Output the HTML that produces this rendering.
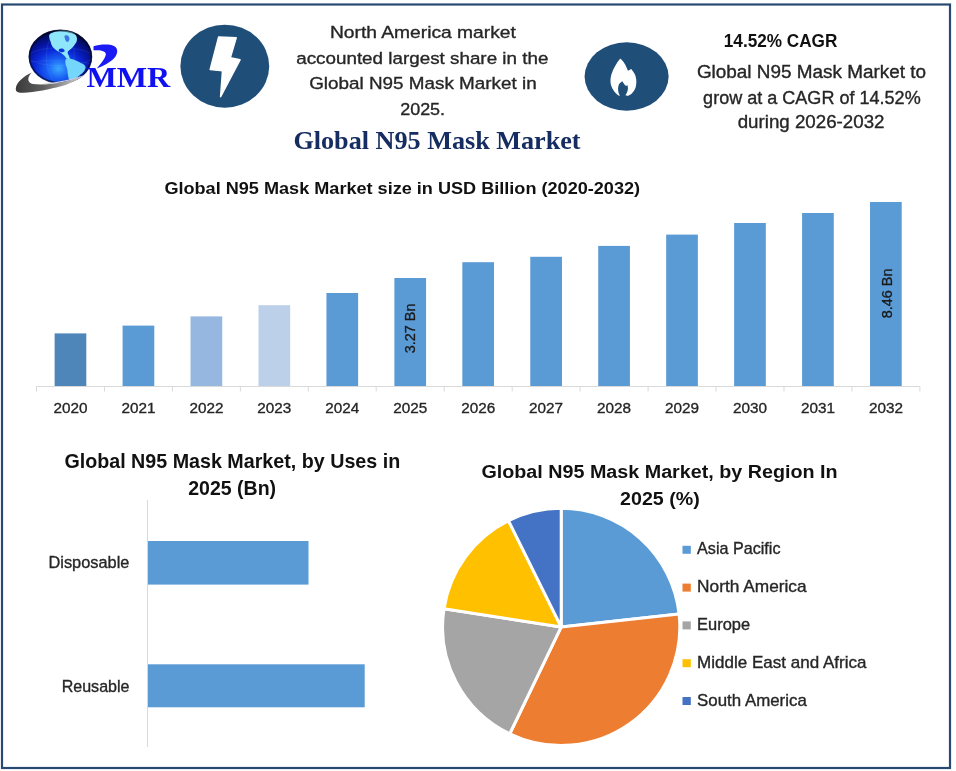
<!DOCTYPE html>
<html><head><meta charset="utf-8"><style>
html,body{margin:0;padding:0;background:#fff;}
body{width:956px;height:771px;overflow:hidden;font-family:"Liberation Sans",sans-serif;}
svg{display:block;will-change:transform;}
</style></head><body>
<svg width="956" height="771" viewBox="0 0 956 771">
<rect x="2" y="4.5" width="948" height="763.5" fill="none" stroke="#284a70" stroke-width="2.2"/>
<defs>
<radialGradient id="globe" cx="0.46" cy="0.74" r="0.8" fx="0.47" fy="0.72">
<stop offset="0" stop-color="#3aa8ff"/><stop offset="0.22" stop-color="#1a62f5"/><stop offset="0.45" stop-color="#0a2ad8"/><stop offset="0.62" stop-color="#0616a8"/><stop offset="0.8" stop-color="#030c60"/><stop offset="0.92" stop-color="#01051e"/><stop offset="1" stop-color="#000210"/>
</radialGradient>
<linearGradient id="swoosh" x1="0" y1="0" x2="1" y2="0">
<stop offset="0" stop-color="#3a3a3a"/><stop offset="0.4" stop-color="#5e5e5e"/><stop offset="0.75" stop-color="#a8a8a8"/><stop offset="1" stop-color="#d8d8e0"/>
</linearGradient>
</defs>
<ellipse cx="60.4" cy="56.7" rx="31.7" ry="26.9" fill="url(#globe)"/>
<path d="M49.97,34.08 C51.15,33.07 53.91,31.78 56.33,31.18 C58.75,30.57 61.86,30.27 64.50,30.45 C67.15,30.63 70.26,31.36 72.23,32.27 C74.19,33.17 75.56,34.46 76.31,35.90 C77.07,37.34 77.15,39.31 76.77,40.89 C76.39,42.48 75.03,44.07 74.04,45.44 C73.06,46.80 71.92,47.93 70.86,49.07 C69.80,50.20 67.99,51.04 67.68,52.25 C67.38,53.46 68.67,55.15 69.05,56.34 C69.42,57.52 70.33,58.95 69.95,59.33 C69.58,59.71 67.76,59.26 66.78,58.61 C65.79,57.95 65.19,56.49 64.05,55.43 C62.92,54.37 61.33,53.16 59.96,52.25 C58.60,51.34 57.16,50.96 55.88,49.98 C54.59,48.99 53.15,47.78 52.24,46.34 C51.34,44.91 50.93,42.86 50.43,41.35 C49.93,39.83 49.32,38.47 49.25,37.26 C49.17,36.05 48.79,35.10 49.97,34.08 Z" fill="#8ee6fb"/>
<path d="M66.32,58.79 C67.53,58.15 70.56,58.79 72.68,59.33 C74.80,59.88 76.95,60.94 79.04,62.06 C81.13,63.18 84.38,64.51 85.21,66.05 C86.05,67.60 84.99,69.76 84.03,71.32 C83.08,72.88 81.20,74.08 79.49,75.41 C77.78,76.74 75.43,78.60 73.77,79.31 C72.10,80.03 70.47,80.40 69.50,79.68 C68.53,78.95 68.37,76.80 67.96,74.95 C67.55,73.11 67.47,70.56 67.05,68.60 C66.62,66.63 65.53,64.78 65.41,63.15 C65.29,61.51 65.11,59.42 66.32,58.79 Z" fill="#74d6fa"/>
<path d="M64.50,35.90 C64.81,34.99 66.85,34.99 67.68,35.45 C68.52,35.90 69.42,37.56 69.50,38.62 C69.58,39.68 68.74,41.42 68.14,41.80 C67.53,42.18 66.47,41.88 65.87,40.89 C65.26,39.91 64.20,36.81 64.50,35.90 Z" fill="#0a2ad0" opacity="0.6"/>
<path d="M59.06,49.34 C59.60,48.86 61.57,48.36 62.51,48.61 C63.45,48.87 64.73,50.28 64.69,50.89 C64.64,51.49 63.14,52.14 62.23,52.25 C61.33,52.35 59.77,52.01 59.24,51.52 C58.71,51.04 58.51,49.83 59.06,49.34 Z" fill="#0a30d8"/>
<g fill="none" stroke="#9fd0ff" stroke-width="0.5" opacity="0.2"><ellipse cx="60.4" cy="56.7" rx="14" ry="26.9"/><ellipse cx="60.4" cy="56.7" rx="31.7" ry="9"/><path d="M30,62 C45,60 75,60 91,64"/></g>
<ellipse cx="60.4" cy="56.7" rx="30.9" ry="26.1" fill="none" stroke="#000418" stroke-width="2" opacity="0.55"/>
<path d="M31.7,72.5 C24,76 16.5,82 15.8,88.5 C15.5,92 18,93 23,92.8 C35,92.5 50,89 62,86 C72,83 80,78 85,74.9 C76,78 68,81 60,82.5 C50,84.3 40,85 33,84 C27.5,83 26.5,78 31.7,72.5 Z" fill="url(#swoosh)"/>
<path d="M44,83.6 C58,82.5 74,79 86,74.6 C74,80 58,84 44,84.6 Z" fill="#d0d0dc"/>
<path d="M93.5,46.2 C100,44.2 109,43.6 114,46 C118.5,48.5 118,53.5 114.5,57.8 C110.5,62.5 103,66.2 96.8,68.4 C100.5,64 105,59 105.8,54.8 C106.3,51 101,49.6 93.5,50.3 Z" fill="#1a1af5"/>
<text x="86.4" y="86.8" font-family="Liberation Serif" font-size="29.5" font-weight="bold" fill="#1010f0" textLength="83.8" lengthAdjust="spacingAndGlyphs">MMR</text>
<ellipse cx="224.8" cy="66.2" rx="44.4" ry="41.5" fill="#1f4e79"/>
<path d="M218.6,37.1 L236.2,37.7 L230.3,57.8 L240,59.8 L220.6,96.7 L222.5,70.8 L210.2,69.5 Z" fill="#fff" stroke="#fff" stroke-width="1.5" stroke-linejoin="round"/>
<text x="329.9" y="37.9" font-family="Liberation Sans" font-size="17.4" font-weight="normal" fill="#262626" stroke="#262626" stroke-width="0.35" textLength="186.0" lengthAdjust="spacingAndGlyphs">North America market</text>
<text x="296.2" y="63.6" font-family="Liberation Sans" font-size="17.4" font-weight="normal" fill="#262626" stroke="#262626" stroke-width="0.35" textLength="252.2" lengthAdjust="spacingAndGlyphs">accounted largest share in the</text>
<text x="309.2" y="88.8" font-family="Liberation Sans" font-size="17.4" font-weight="normal" fill="#262626" stroke="#262626" stroke-width="0.35" textLength="227.5" lengthAdjust="spacingAndGlyphs">Global N95 Mask Market in</text>
<text x="400.2" y="114.5" font-family="Liberation Sans" font-size="17.4" font-weight="normal" fill="#262626" stroke="#262626" stroke-width="0.35" textLength="44.9" lengthAdjust="spacingAndGlyphs">2025.</text>
<text x="293.4" y="148.5" font-family="Liberation Serif" font-size="25.8" font-weight="bold" fill="#152d60" textLength="287.2" lengthAdjust="spacingAndGlyphs">Global N95 Mask Market</text>
<ellipse cx="626.6" cy="76.5" rx="42" ry="34.2" fill="#1f4e79"/>
<path d="M620.21,58.47 C620.21,58.47 618.18,60.91 616.93,62.95 C615.69,64.99 613.80,68.22 612.76,70.71 C611.71,73.19 610.97,75.48 610.67,77.87 C610.37,80.25 610.42,82.84 610.97,85.03 C611.51,87.21 612.76,89.30 613.95,90.99 C615.14,92.68 617.13,94.37 618.13,95.17 C619.12,95.96 619.92,95.77 619.92,95.77 C619.92,95.77 618.72,93.48 618.42,92.19 C618.13,90.89 617.98,89.40 618.13,88.01 C618.28,86.62 618.62,84.98 619.32,83.83 C620.02,82.69 622.30,81.15 622.30,81.15 C622.30,81.15 624.74,84.98 625.58,85.62 C626.43,86.27 627.37,85.03 627.37,85.03 C627.37,85.03 628.02,87.41 627.97,88.61 C627.92,89.80 627.52,91.09 627.08,92.19 C626.63,93.28 625.29,95.17 625.29,95.17 C625.29,95.17 627.67,95.77 627.67,95.77 C627.67,95.77 630.56,94.67 631.85,93.38 C633.14,92.09 634.68,90.10 635.43,88.01 C636.18,85.92 636.42,83.14 636.32,80.85 C636.23,78.56 635.68,76.28 634.83,74.29 C633.99,72.30 631.25,68.92 631.25,68.92 C631.25,68.92 627.97,70.71 627.97,70.71 C627.97,70.71 626.23,66.43 625.29,64.74 C624.34,63.05 623.15,61.61 622.30,60.56 C621.46,59.52 620.21,58.47 620.21,58.47 Z" fill="#fff"/>
<text x="723.8" y="47.0" font-family="Liberation Sans" font-size="18" font-weight="bold" fill="#111" textLength="113.6" lengthAdjust="spacingAndGlyphs">14.52% CAGR</text>
<text x="696.9" y="78.0" font-family="Liberation Sans" font-size="17.6" font-weight="normal" fill="#262626" stroke="#262626" stroke-width="0.35" textLength="229.2" lengthAdjust="spacingAndGlyphs">Global N95 Mask Market to</text>
<text x="703.1" y="103.9" font-family="Liberation Sans" font-size="17.6" font-weight="normal" fill="#262626" stroke="#262626" stroke-width="0.35" textLength="217.6" lengthAdjust="spacingAndGlyphs">grow at a CAGR of 14.52%</text>
<text x="737.7" y="128.3" font-family="Liberation Sans" font-size="17.6" font-weight="normal" fill="#262626" stroke="#262626" stroke-width="0.35" textLength="146.8" lengthAdjust="spacingAndGlyphs">during 2026-2032</text>
<text x="164.4" y="194.3" font-family="Liberation Sans" font-size="17" font-weight="bold" fill="#111" textLength="475.7" lengthAdjust="spacingAndGlyphs">Global N95 Mask Market size in USD Billion (2020-2032)</text>
<rect x="54.62" y="333.4" width="31.7" height="52.6" fill="#4e86ba"/>
<text x="53.5" y="413.2" font-family="Liberation Sans" font-size="15.5" font-weight="normal" fill="#262626" stroke="#262626" stroke-width="0.35" textLength="34.0" lengthAdjust="spacingAndGlyphs">2020</text>
<rect x="122.58" y="325.6" width="31.7" height="60.4" fill="#5b9bd5"/>
<text x="121.4" y="413.2" font-family="Liberation Sans" font-size="15.5" font-weight="normal" fill="#262626" stroke="#262626" stroke-width="0.35" textLength="34.0" lengthAdjust="spacingAndGlyphs">2021</text>
<rect x="190.53" y="316.4" width="31.7" height="69.6" fill="#95b7e0"/>
<text x="189.4" y="413.2" font-family="Liberation Sans" font-size="15.5" font-weight="normal" fill="#262626" stroke="#262626" stroke-width="0.35" textLength="34.0" lengthAdjust="spacingAndGlyphs">2022</text>
<rect x="258.48" y="305.2" width="31.7" height="80.8" fill="#bcd0ea"/>
<text x="257.3" y="413.2" font-family="Liberation Sans" font-size="15.5" font-weight="normal" fill="#262626" stroke="#262626" stroke-width="0.35" textLength="34.0" lengthAdjust="spacingAndGlyphs">2023</text>
<rect x="326.43" y="293" width="31.7" height="93.0" fill="#5b9bd5"/>
<text x="325.3" y="413.2" font-family="Liberation Sans" font-size="15.5" font-weight="normal" fill="#262626" stroke="#262626" stroke-width="0.35" textLength="34.0" lengthAdjust="spacingAndGlyphs">2024</text>
<rect x="394.38" y="278" width="31.7" height="108.0" fill="#5b9bd5"/>
<text x="393.2" y="413.2" font-family="Liberation Sans" font-size="15.5" font-weight="normal" fill="#262626" stroke="#262626" stroke-width="0.35" textLength="34.0" lengthAdjust="spacingAndGlyphs">2025</text>
<rect x="462.32" y="262.2" width="31.7" height="123.8" fill="#5b9bd5"/>
<text x="461.2" y="413.2" font-family="Liberation Sans" font-size="15.5" font-weight="normal" fill="#262626" stroke="#262626" stroke-width="0.35" textLength="34.0" lengthAdjust="spacingAndGlyphs">2026</text>
<rect x="530.27" y="256.8" width="31.7" height="129.2" fill="#5b9bd5"/>
<text x="529.1" y="413.2" font-family="Liberation Sans" font-size="15.5" font-weight="normal" fill="#262626" stroke="#262626" stroke-width="0.35" textLength="34.0" lengthAdjust="spacingAndGlyphs">2027</text>
<rect x="598.23" y="245.9" width="31.7" height="140.1" fill="#5b9bd5"/>
<text x="597.1" y="413.2" font-family="Liberation Sans" font-size="15.5" font-weight="normal" fill="#262626" stroke="#262626" stroke-width="0.35" textLength="34.0" lengthAdjust="spacingAndGlyphs">2028</text>
<rect x="666.17" y="234.6" width="31.7" height="151.4" fill="#5b9bd5"/>
<text x="665.0" y="413.2" font-family="Liberation Sans" font-size="15.5" font-weight="normal" fill="#262626" stroke="#262626" stroke-width="0.35" textLength="34.0" lengthAdjust="spacingAndGlyphs">2029</text>
<rect x="734.12" y="223" width="31.7" height="163.0" fill="#5b9bd5"/>
<text x="733.0" y="413.2" font-family="Liberation Sans" font-size="15.5" font-weight="normal" fill="#262626" stroke="#262626" stroke-width="0.35" textLength="34.0" lengthAdjust="spacingAndGlyphs">2030</text>
<rect x="802.08" y="213" width="31.7" height="173.0" fill="#5b9bd5"/>
<text x="800.9" y="413.2" font-family="Liberation Sans" font-size="15.5" font-weight="normal" fill="#262626" stroke="#262626" stroke-width="0.35" textLength="34.0" lengthAdjust="spacingAndGlyphs">2031</text>
<rect x="870.02" y="202" width="31.7" height="184.0" fill="#5b9bd5"/>
<text x="868.9" y="413.2" font-family="Liberation Sans" font-size="15.5" font-weight="normal" fill="#262626" stroke="#262626" stroke-width="0.35" textLength="34.0" lengthAdjust="spacingAndGlyphs">2032</text>
<line x1="36.5" y1="386.5" x2="919.9" y2="386.5" stroke="#d9d9d9" stroke-width="1"/>
<line x1="36.5" y1="386.5" x2="36.5" y2="391.5" stroke="#d9d9d9" stroke-width="1"/>
<line x1="104.5" y1="386.5" x2="104.5" y2="391.5" stroke="#d9d9d9" stroke-width="1"/>
<line x1="172.4" y1="386.5" x2="172.4" y2="391.5" stroke="#d9d9d9" stroke-width="1"/>
<line x1="240.4" y1="386.5" x2="240.4" y2="391.5" stroke="#d9d9d9" stroke-width="1"/>
<line x1="308.3" y1="386.5" x2="308.3" y2="391.5" stroke="#d9d9d9" stroke-width="1"/>
<line x1="376.2" y1="386.5" x2="376.2" y2="391.5" stroke="#d9d9d9" stroke-width="1"/>
<line x1="444.2" y1="386.5" x2="444.2" y2="391.5" stroke="#d9d9d9" stroke-width="1"/>
<line x1="512.2" y1="386.5" x2="512.2" y2="391.5" stroke="#d9d9d9" stroke-width="1"/>
<line x1="580.1" y1="386.5" x2="580.1" y2="391.5" stroke="#d9d9d9" stroke-width="1"/>
<line x1="648.1" y1="386.5" x2="648.1" y2="391.5" stroke="#d9d9d9" stroke-width="1"/>
<line x1="716.0" y1="386.5" x2="716.0" y2="391.5" stroke="#d9d9d9" stroke-width="1"/>
<line x1="784.0" y1="386.5" x2="784.0" y2="391.5" stroke="#d9d9d9" stroke-width="1"/>
<line x1="851.9" y1="386.5" x2="851.9" y2="391.5" stroke="#d9d9d9" stroke-width="1"/>
<line x1="919.9" y1="386.5" x2="919.9" y2="391.5" stroke="#d9d9d9" stroke-width="1"/>
<text transform="translate(415.4,328.4) rotate(-90)" x="-24.9" y="0" font-family="Liberation Sans" font-size="15" fill="#1a1a1a" stroke="#1a1a1a" stroke-width="0.3" textLength="49.8" lengthAdjust="spacingAndGlyphs">3.27 Bn</text>
<text transform="translate(891.5,293.4) rotate(-90)" x="-24.9" y="0" font-family="Liberation Sans" font-size="15" fill="#1a1a1a" stroke="#1a1a1a" stroke-width="0.3" textLength="49.8" lengthAdjust="spacingAndGlyphs">8.46 Bn</text>
<text x="64.4" y="467.7" font-family="Liberation Sans" font-size="19.8" font-weight="bold" fill="#111" textLength="335.8" lengthAdjust="spacingAndGlyphs">Global N95 Mask Market, by Uses in</text>
<text x="188.2" y="494.5" font-family="Liberation Sans" font-size="19.8" font-weight="bold" fill="#111" textLength="87.9" lengthAdjust="spacingAndGlyphs">2025 (Bn)</text>
<line x1="147.5" y1="500" x2="147.5" y2="747" stroke="#d9d9d9" stroke-width="1"/>
<rect x="148" y="541" width="160.5" height="43.6" fill="#5b9bd5"/>
<rect x="148" y="664.3" width="216.7" height="43" fill="#5b9bd5"/>
<text x="48.5" y="567.9" font-family="Liberation Sans" font-size="16.9" font-weight="normal" fill="#262626" stroke="#262626" stroke-width="0.35" textLength="80.9" lengthAdjust="spacingAndGlyphs">Disposable</text>
<text x="61.7" y="691.7" font-family="Liberation Sans" font-size="16.9" font-weight="normal" fill="#262626" stroke="#262626" stroke-width="0.35" textLength="67.8" lengthAdjust="spacingAndGlyphs">Reusable</text>
<path d="M561.2,626.9 L561.20,508.30 A118.6,118.6 0 0 1 679.08,613.89 Z" fill="#5b9bd5" stroke="#fff" stroke-width="3" stroke-linejoin="round"/>
<path d="M561.2,626.9 L679.08,613.89 A118.6,118.6 0 0 1 509.77,733.77 Z" fill="#ed7d31" stroke="#fff" stroke-width="3" stroke-linejoin="round"/>
<path d="M561.2,626.9 L509.77,733.77 A118.6,118.6 0 0 1 444.00,608.76 Z" fill="#a5a5a5" stroke="#fff" stroke-width="3" stroke-linejoin="round"/>
<path d="M561.2,626.9 L444.00,608.76 A118.6,118.6 0 0 1 508.47,520.67 Z" fill="#ffc000" stroke="#fff" stroke-width="3" stroke-linejoin="round"/>
<path d="M561.2,626.9 L508.47,520.67 A118.6,118.6 0 0 1 561.20,508.30 Z" fill="#4472c4" stroke="#fff" stroke-width="3" stroke-linejoin="round"/>
<text x="481.4" y="477.7" font-family="Liberation Sans" font-size="19.2" font-weight="bold" fill="#111" textLength="356.2" lengthAdjust="spacingAndGlyphs">Global N95 Mask Market, by Region In</text>
<text x="620.1" y="504.5" font-family="Liberation Sans" font-size="19.2" font-weight="bold" fill="#111" textLength="79.7" lengthAdjust="spacingAndGlyphs">2025 (%)</text>
<rect x="682.5" y="545.8" width="8.3" height="8" fill="#5b9bd5"/>
<text x="697.1" y="554.3" font-family="Liberation Sans" font-size="16.2" font-weight="normal" fill="#262626" stroke="#262626" stroke-width="0.35" textLength="83.4" lengthAdjust="spacingAndGlyphs">Asia Pacific</text>
<rect x="682.5" y="583.6" width="8.3" height="8" fill="#ed7d31"/>
<text x="697.1" y="592.1" font-family="Liberation Sans" font-size="16.2" font-weight="normal" fill="#262626" stroke="#262626" stroke-width="0.35" textLength="109.5" lengthAdjust="spacingAndGlyphs">North America</text>
<rect x="682.5" y="621.4" width="8.3" height="8" fill="#a5a5a5"/>
<text x="697.1" y="629.9" font-family="Liberation Sans" font-size="16.2" font-weight="normal" fill="#262626" stroke="#262626" stroke-width="0.35" textLength="53.0" lengthAdjust="spacingAndGlyphs">Europe</text>
<rect x="682.5" y="659.2" width="8.3" height="8" fill="#ffc000"/>
<text x="697.1" y="667.7" font-family="Liberation Sans" font-size="16.2" font-weight="normal" fill="#262626" stroke="#262626" stroke-width="0.35" textLength="169.3" lengthAdjust="spacingAndGlyphs">Middle East and Africa</text>
<rect x="682.5" y="697.0" width="8.3" height="8" fill="#4472c4"/>
<text x="697.1" y="705.5" font-family="Liberation Sans" font-size="16.2" font-weight="normal" fill="#262626" stroke="#262626" stroke-width="0.35" textLength="109.7" lengthAdjust="spacingAndGlyphs">South America</text>
</svg>
</body></html>
